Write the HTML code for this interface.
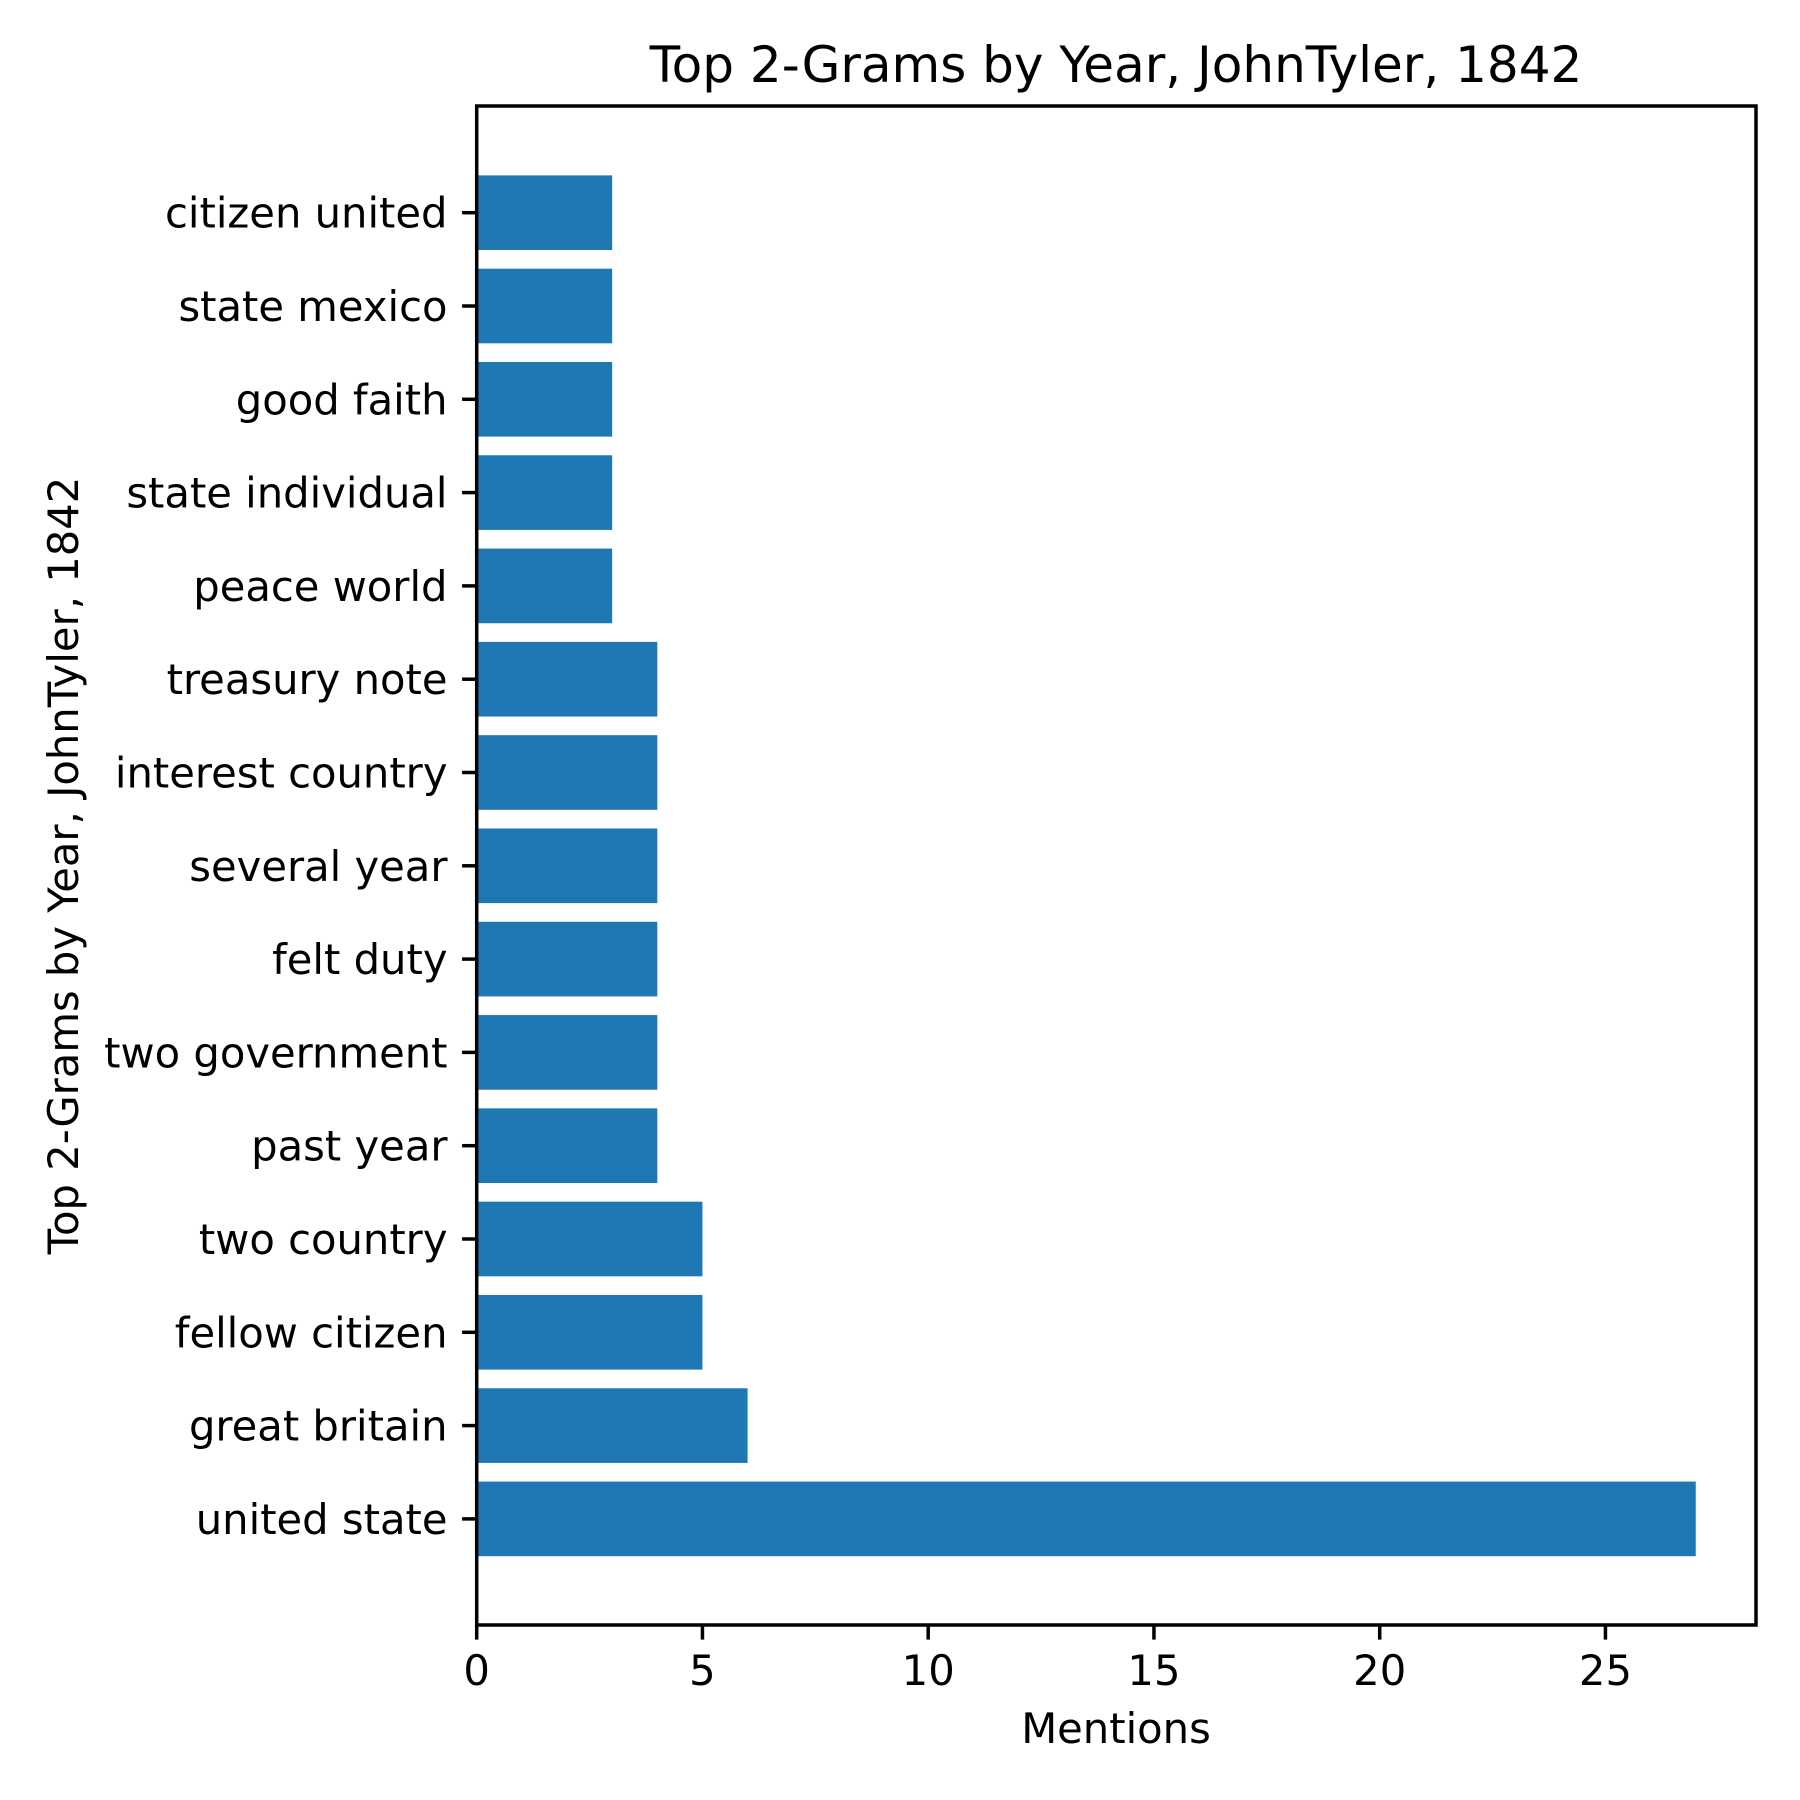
<!DOCTYPE html>
<html><head><meta charset="utf-8"><style>
html,body{margin:0;padding:0;background:#fff;}
svg{display:block;font-family:"DejaVu Sans","Liberation Sans",sans-serif;}
</style></head><body>
<svg id="chart" width="1800" height="1800" viewBox="0 0 1800 1800" xmlns="http://www.w3.org/2000/svg">
<rect width="1800" height="1800" fill="#fff"/>
<text x="1116" y="82" font-size="50" text-anchor="middle">Top 2-Grams by Year, JohnTyler, 1842</text>
<text transform="translate(78,865.5) rotate(-90)" font-size="41.7" text-anchor="middle">Top 2-Grams by Year, JohnTyler, 1842</text>
<text x="1116" y="1743" font-size="41.7" text-anchor="middle">Mentions</text>
<g id="bars"></g>
<g id="yticks"></g>
<g id="xticks"></g>
<rect x="476.7" y="106" width="1279.3" height="1519" fill="none" stroke="#000" stroke-width="3.5"/>
</svg>
<script>
const categories = ["citizen united","state mexico","good faith","state individual","peace world","treasury note","interest country","several year","felt duty","two government","past year","two country","fellow citizen","great britain","united state"];
const mentions = [3,3,3,3,3,4,4,4,4,4,4,5,5,6,27];
const xTicks = [0,5,10,15,20,25];
const NS = "http://www.w3.org/2000/svg";
const x0 = 476.7, pxPerUnit = 45.15;
const xScale = v => x0 + v * pxPerUnit;
const yTop = 212.7, step = 93.3, barH = 0.8 * step;
const yScale = i => yTop + i * step;
function mk(tag, attrs){const e=document.createElementNS(NS,tag);for(const k in attrs)e.setAttribute(k,attrs[k]);return e;}
const bars=document.getElementById('bars'), yt=document.getElementById('yticks'), xt=document.getElementById('xticks');
categories.forEach((c,i)=>{
  const cy=yScale(i);
  const r=mk('rect',{x:xScale(0),y:cy-barH/2,width:xScale(mentions[i])-xScale(0),height:barH,fill:'#1f77b4'});
  
  
  bars.appendChild(r);
  const t=mk('line',{x1:x0-14.6,x2:x0,y1:cy,y2:cy,stroke:'#000','stroke-width':3.5});
  
  
  yt.appendChild(t);
  const l=mk('text',{x:x0-29.2,y:cy+15,'font-size':41.7,'text-anchor':'end'});
  l.textContent=c;
  
  
  yt.appendChild(l);
});
xTicks.forEach(v=>{
  const x=xScale(v);
  const t=mk('line',{x1:x,x2:x,y1:1625,y2:1639.6,stroke:'#000','stroke-width':3.5});
  
  
  xt.appendChild(t);
  const l=mk('text',{x:x,y:1685,'font-size':41.7,'text-anchor':'middle'});
  l.textContent=String(v);
  
  
  xt.appendChild(l);
});
</script>
</body></html>
